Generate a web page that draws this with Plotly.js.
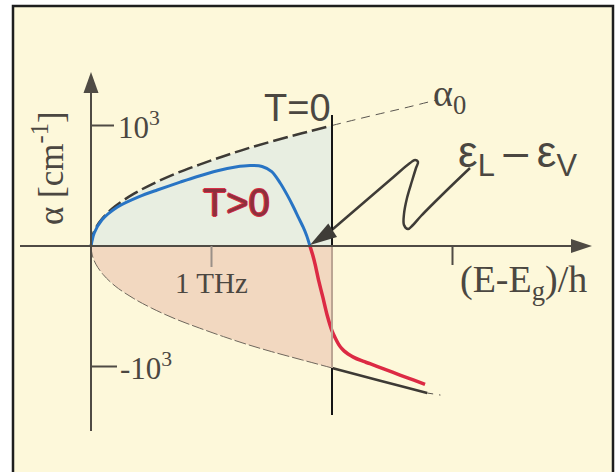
<!DOCTYPE html>
<html>
<head>
<meta charset="utf-8">
<script src="https://cdn.plot.ly/plotly-3.0.1.min.js"></script>
<style>
  html, body { margin: 0; padding: 0; background: #ffffff; }
  #chart { width: 616px; height: 472px; }
</style>
</head>
<body>
<div id="chart"></div>
<script>
// Absorption edge of a semiconductor: alpha0 (T=0) and alpha at T>0
// frequency (E-Eg)/h in THz, absorption alpha in cm^-1

// alpha0 envelope, inside the filled window (0 .. 2 THz)
const nuEnvelope = [0, 0.01, 0.04, 0.1, 0.2, 0.35, 0.5, 0.7, 0.9, 1.1, 1.3, 1.5, 1.75, 2.0];
const alphaEnvelopeUp = [0, 75, 150, 235, 330, 430, 510, 600, 675, 745, 810, 868, 935, 1000];
const alphaEnvelopeDown = [0, -75, -150, -236, -332, -433, -514, -605, -681, -752, -818, -877, -945, -1012];

// alpha0 continued beyond the T=0 cut-off
const nuUpperTail = [2.0, 2.2, 2.4, 2.6, 2.86];
const alphaUpperTail = [1000, 1050, 1098, 1145, 1210];
const nuLowerTail = [2.0, 2.2, 2.4, 2.6, 2.79];
const alphaLowerTail = [-1012, -1067, -1118, -1170, -1220];
const nuLowerTailEnd = [2.79, 2.9];
const alphaLowerTailEnd = [-1220, -1237];

// alpha for T>0: positive part (absorption) and negative part (gain)
const nuWarmPos = [0, 0.027, 0.09, 0.22, 0.4, 0.55, 0.74, 0.87, 1.05, 1.2, 1.32, 1.42, 1.5, 1.57, 1.63, 1.68, 1.72, 1.76, 1.79, 1.817];
const alphaWarmPos = [0, 108, 216, 324, 410, 465, 530, 573, 625, 656, 668, 660, 617, 523, 420, 324, 240, 158, 85, 0];
const nuWarmNeg = [1.817, 1.84, 1.86, 1.89, 1.925, 1.96, 2.0, 2.03, 2.055, 2.08, 2.1, 2.12, 2.14, 2.177, 2.24, 2.315, 2.44, 2.564, 2.68, 2.772];
const alphaWarmNeg = [0, -75, -152, -290, -429, -575, -705, -770, -816, -850, -870, -886, -900, -922, -950, -977, -1024, -1071, -1113, -1148];

// axis ticks
const yTickValues = [1000, -1000];
const yTickLabels = ['10<sup>3</sup>', '-10<sup>3</sup>'];
const xTickValues = [1, 3];
const xTickLabels = ['1 THz', ''];
const nuCutoff = 2.0;

// ---- page geometry (pixels) ----
const W = 616, H = 472;
const ORIGIN_X = 91, ORIGIN_Y = 246;
const PX_PER_THZ = 120.5, PX_PER_ALPHA = 0.1205;
const nu = px => (px - ORIGIN_X) / PX_PER_THZ;
const al = py => (ORIGIN_Y - py) / PX_PER_ALPHA;

const INK = '#4b4741';
const SERIF = "'Liberation Serif', 'Times New Roman', serif";
const SANS = "'Liberation Sans', Arial, sans-serif";

function tri(tip, from, len, half) {
  const dx = tip[0] - from[0], dy = tip[1] - from[1];
  const d = Math.hypot(dx, dy), ux = dx / d, uy = dy / d;
  const bx = tip[0] - ux * len, by = tip[1] - uy * len;
  const pts = [tip, [bx - uy * half, by + ux * half], [bx + uy * half, by - ux * half]];
  return 'M' + pts.map(p => nu(p[0]) + ',' + al(p[1])).join(' L') + ' Z';
}

// zig-zag pointer from the epsilon label down to the zero crossing
const pointerPx = [[470, 168], [445, 192], [421, 216], [413, 225], [408, 229], [404, 225], [404, 214], [407, 198], [412, 181], [416, 168], [418, 162], [415, 160], [410, 163], [390, 180], [326, 235]];
const pointerTip = [310, 245];

const traces = [
  { x: nuEnvelope, y: alphaEnvelopeUp, mode: 'lines', fill: 'tozeroy', fillcolor: '#e8eee1', line: { width: 0 }, hoverinfo: 'skip' },
  { x: nuEnvelope, y: alphaEnvelopeDown, mode: 'lines', fill: 'tozeroy', fillcolor: '#f2d8c0', line: { width: 0 }, hoverinfo: 'skip' },
  { x: nuEnvelope, y: alphaEnvelopeDown, mode: 'lines', line: { color: '#6e665c', width: 1, dash: '12px,3px', shape: 'spline' } },
  { x: nuEnvelope, y: alphaEnvelopeUp, mode: 'lines', line: { color: '#3d3a35', width: 2.5, dash: '15px,5px', shape: 'spline' } },
  { x: nuUpperTail, y: alphaUpperTail, mode: 'lines', line: { color: '#5a5650', width: 1, dash: '9px,6px', shape: 'spline' } },
  { x: nuLowerTail, y: alphaLowerTail, mode: 'lines', line: { color: '#3d3a35', width: 2.5 } },
  { x: nuLowerTailEnd, y: alphaLowerTailEnd, mode: 'lines', line: { color: '#5a5650', width: 1, dash: '6px,6px' } },
  { x: nuWarmPos, y: alphaWarmPos, mode: 'lines', line: { color: '#2874c4', width: 3, shape: 'spline', smoothing: 0.8 } },
  { x: nuWarmNeg, y: alphaWarmNeg, mode: 'lines', line: { color: '#dc2a44', width: 3.5, shape: 'spline', smoothing: 0.6 } },
  { x: pointerPx.map(p => nu(p[0])), y: pointerPx.map(p => al(p[1])), mode: 'lines', line: { color: '#3f3c37', width: 2.5, shape: 'spline', smoothing: 1 } }
];

const shapes = [
  // frame
  { type: 'rect', xref: 'paper', yref: 'paper', x0: 13 / W, x1: 613 / W, y0: -0.05, y1: 1 - 6 / H,
    fillcolor: '#fdf8da', line: { color: '#1e1e1e', width: 2.5 }, layer: 'below' },
  // T=0 cut-off line
  { type: 'line', x0: nuCutoff, x1: nuCutoff, y0: al(115), y1: 0, line: { color: '#151515', width: 2 } },
  { type: 'line', x0: nuCutoff, x1: nuCutoff, y0: 0, y1: -1012, line: { color: '#bba593', width: 2 } },
  { type: 'line', x0: nuCutoff, x1: nuCutoff, y0: -1012, y1: al(415), line: { color: '#151515', width: 2 } },
  // axes with arrow heads
  { type: 'line', x0: nu(20), x1: nu(578), y0: 0, y1: 0, line: { color: '#4f4b44', width: 2 } },
  { type: 'path', path: tri([592, 246], [500, 246], 21, 7), fillcolor: '#4f4b44', line: { width: 0 } },
  { type: 'line', x0: 0, x1: 0, y0: al(431), y1: al(86), line: { color: '#4f4b44', width: 2 } },
  { type: 'path', path: tri([91, 72], [91, 200], 21, 7.5), fillcolor: '#4f4b44', line: { width: 0 } },
  // pointer head
  { type: 'path', path: tri(pointerTip, [330, 232], 27, 8), fillcolor: '#3f3c37', line: { width: 0 } }
];

// y ticks
yTickValues.forEach((v, i) => {
  shapes.push({ type: 'line', x0: 0, x1: nu(i === 0 ? 114 : 117), y0: v, y1: v, line: { color: '#4f4b44', width: 2 } });
});
// x ticks
xTickValues.forEach((v, i) => {
  shapes.push({ type: 'line', x0: v, x1: v, y0: 0, y1: al(i === 0 ? 267 : 265),
    line: { color: i === 0 ? '#9a9088' : '#4f4b44', width: 2 } });
});

const annotations = [];
yTickValues.forEach((v, i) => {
  annotations.push({ x: nu(i === 0 ? 116 : 118), y: v, text: yTickLabels[i], showarrow: false,
    xanchor: 'left', yanchor: 'middle', font: { family: SERIF, size: 31, color: INK } });
});
xTickValues.forEach((v, i) => {
  if (!xTickLabels[i]) return;
  annotations.push({ x: v, y: al(283), text: xTickLabels[i], showarrow: false,
    xanchor: 'center', yanchor: 'middle', font: { family: SERIF, size: 29, color: INK } });
});

annotations.push(
  { x: nu(48), y: al(168), text: '\u03b1 [cm<sup>-1</sup>]', textangle: -90, showarrow: false,
    font: { family: SERIF, size: 35, color: INK } },
  { x: nu(458), y: al(282), text: '(E-E<sub>g</sub>)/h', showarrow: false, xanchor: 'left', yanchor: 'middle',
    font: { family: SERIF, size: 38, color: INK } },
  { x: nu(297), y: al(108), text: 'T=0', showarrow: false, font: { family: SANS, size: 38, color: INK } },
  { x: nu(236), y: al(203), text: 'T>0', showarrow: false,
    font: { family: SANS, size: 38, color: '#8e303c',
      shadow: '1px 0 0 #d83048, -1px 0 0 #d83048, 0 1px 0 #d83048, 0 -1px 0 #d83048' } },
  { x: nu(431), y: al(96), text: '\u03b1<sub>0</sub>', showarrow: false, xanchor: 'left', yanchor: 'middle',
    font: { family: SERIF, size: 38, color: INK } },
  { x: nu(456), y: al(155), text: '\u03b5<sub>L</sub>\u2009\u2013\u2009\u03b5<sub>V</sub>', showarrow: false,
    xanchor: 'left', yanchor: 'middle', font: { family: SANS, size: 44, color: INK } }
);

const layout = {
  width: W, height: H,
  margin: { l: 0, r: 0, t: 0, b: 0 },
  paper_bgcolor: '#ffffff', plot_bgcolor: 'rgba(0,0,0,0)',
  showlegend: false,
  xaxis: { range: [nu(0), nu(W)], visible: false, fixedrange: true },
  yaxis: { range: [al(H), al(0)], visible: false, fixedrange: true },
  shapes: shapes,
  annotations: annotations
};

Plotly.newPlot('chart', traces, layout, { staticPlot: true });
</script>
</body>
</html>
